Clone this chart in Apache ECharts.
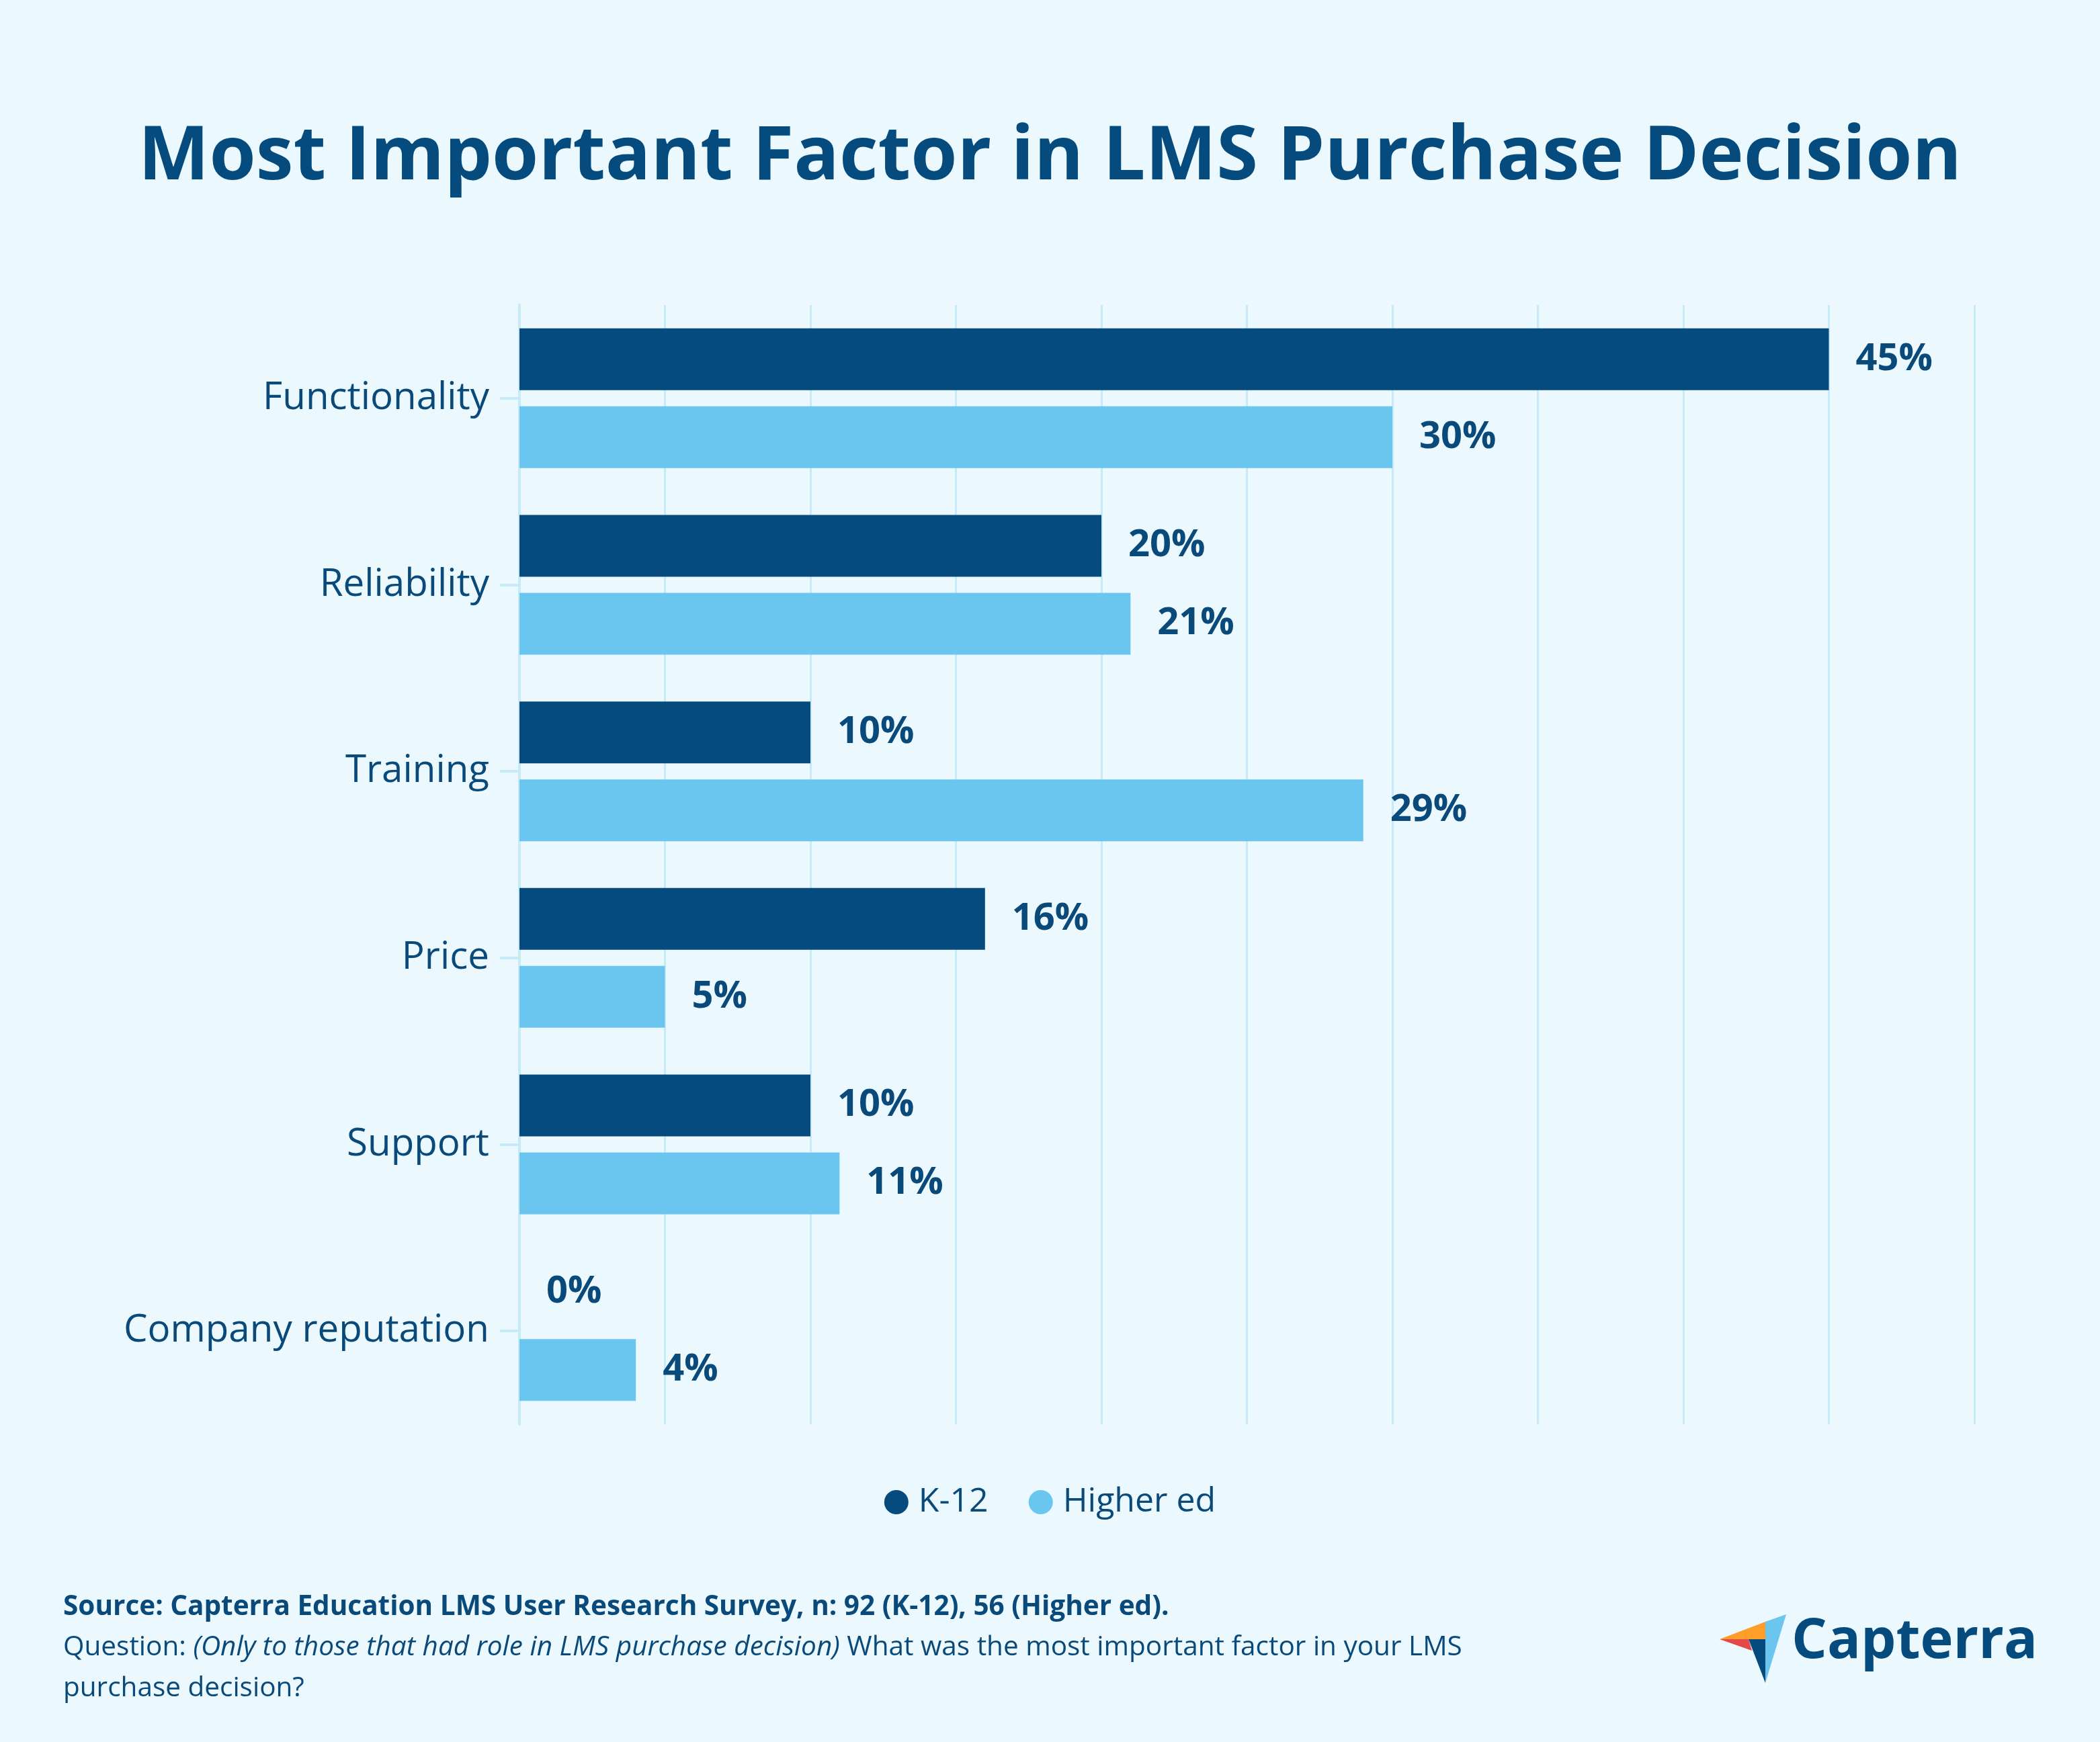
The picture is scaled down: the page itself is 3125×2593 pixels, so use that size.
<!DOCTYPE html>
<html>
<head>
<meta charset="utf-8">
<script src="https://cdn.jsdelivr.net/npm/echarts@6/dist/echarts.min.js"></script>
<style>
html,body{margin:0;padding:0;background:#ebf8fd;}
#chart{width:3125px;height:2593px;}
</style>
</head>
<body>
<div id="chart"></div>
<script>
const categories = ['Functionality', 'Reliability', 'Training', 'Price', 'Support', 'Company reputation'];
const k12Values = [45, 20, 10, 16, 10, 0];
const higherEdValues = [30, 21, 29, 5, 11, 4];
const seriesNames = ['K-12', 'Higher ed'];
const titleText = 'Most Important Factor in LMS Purchase Decision';
const sourceText = 'Source: Capterra Education LMS User Research Survey, n: 92 (K-12), 56 (Higher ed).';
const questionLead = 'Question: ';
const questionItalic = '(Only to those that had role in LMS purchase decision)';
const questionRest1 = ' What was the most important factor in your LMS';
const questionRest2 = 'purchase decision?';

const DARK = '#054b7e';
const LIGHT = '#6ac6ee';
const TEXT = '#0a4a7b';
const GRIDC = '#c6eaf8';
const FONT = '"Open Sans", "Noto Sans", sans-serif';

const chart = echarts.init(document.getElementById('chart'));
const labelStyle = {
  show: true, position: 'right', distance: 40,
  formatter: '{c}%', color: TEXT, fontFamily: FONT, fontWeight: 'bold', fontSize: 56
};
chart.setOption({
  backgroundColor: '#ebf8fd',
  textStyle: {fontFamily: FONT},
  title: {
    text: titleText, left: 'center', top: 160,
    textStyle: {color: DARK, fontFamily: FONT, fontWeight: 'bold', fontSize: 112, lineHeight: 140}
  },
  legend: {
    data: seriesNames, left: 'center', top: 2206,
    icon: 'circle', itemWidth: 36, itemHeight: 36, itemGap: 60,
    textStyle: {color: TEXT, fontFamily: FONT, fontSize: 50, padding: [0,0,0,10]}
  },
  grid: {left: 773, right: 187, top: 454, bottom: 473, containLabel: false},
  xAxis: {
    type: 'value', min: 0, max: 50, interval: 5,
    axisLine: {show: false}, axisTick: {show: false}, axisLabel: {show: false},
    splitLine: {show: true, lineStyle: {color: GRIDC, width: 3}}
  },
  yAxis: {
    type: 'category', data: categories, inverse: true,
    axisLine: {show: true, lineStyle: {color: GRIDC, width: 4}},
    axisTick: {show: true, length: 29, alignWithLabel: true, lineStyle: {color: GRIDC, width: 4}},
    axisLabel: {color: TEXT, fontFamily: FONT, fontSize: 56.5, margin: 45}
  },
  series: [
    {name: seriesNames[0], type: 'bar', data: k12Values, barWidth: 92, barGap: '26%',
     itemStyle: {color: DARK}, label: labelStyle},
    {name: seriesNames[1], type: 'bar', data: higherEdValues, barWidth: 92,
     itemStyle: {color: LIGHT}, label: labelStyle}
  ],
  graphic: [
    {type: 'text', left: 94, top: 2372, style: {text: sourceText, fill: TEXT, font: 'bold 40.5px "Open Sans"'}},
    {type: 'text', left: 94, top: 2432, style: {
      text: '{n|' + questionLead + '}{i|' + questionItalic + '}{n|' + questionRest1 + '}\n{n|' + questionRest2 + '}',
      rich: {
        n: {fill: TEXT, fontFamily: FONT, fontSize: 40.5, lineHeight: 61},
        i: {fill: TEXT, fontFamily: FONT, fontSize: 40.5, fontStyle: 'italic', lineHeight: 61}
      }
    }},
    {type: 'polygon', shape: {points: [[2559,2440],[2627,2414],[2627,2440]]}, style: {fill: '#fd9e2b'}},
    {type: 'polygon', shape: {points: [[2627,2414],[2658,2403],[2627,2505]]}, style: {fill: '#6ac6ee'}},
    {type: 'polygon', shape: {points: [[2559,2440],[2602,2440],[2607,2457]]}, style: {fill: '#e64848'}},
    {type: 'polygon', shape: {points: [[2602,2440],[2627,2440],[2627,2505]]}, style: {fill: '#054b7e'}},
    {type: 'text', left: 2666, top: 2403, style: {text: 'Capterra', fill: DARK, font: 'bold 83px "Open Sans"'}}
  ]
});
</script>
</body>
</html>
